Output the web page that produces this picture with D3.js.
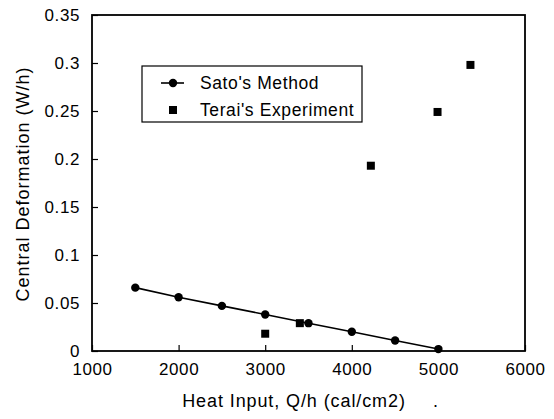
<!DOCTYPE html>
<html>
<head>
<meta charset="utf-8">
<script src="https://cdn.jsdelivr.net/npm/d3@7"></script>
<style>
  body { margin: 0; background: #fff; }
  text { font-family: "Liberation Sans", Arial, sans-serif; fill: #000; }
</style>
</head>
<body>
<div id="chart"></div>
<script>
// Sato's method (computed curve)
let satoX = [1500, 2000, 2500, 3000, 3500, 4000, 4500, 5000];
let satoY = [0.066, 0.056, 0.047, 0.038, 0.029, 0.020, 0.011, 0.002];

// Terai's experiment
let teraiX = [3000, 3400, 4220, 4990, 5370];
let teraiY = [0.018, 0.029, 0.193, 0.249, 0.298];

let xTicks = [1000, 2000, 3000, 4000, 5000, 6000];
let yTicks = [0, 0.05, 0.1, 0.15, 0.2, 0.25, 0.3, 0.35];

let margin = {top: 15, right: 29, bottom: 68, left: 92};
let width = 554 - margin.left - margin.right;
let height = 419 - margin.top - margin.bottom;

let svg = d3.select("#chart").append("svg")
    .attr("width", 554)
    .attr("height", 419);

let g = svg.append("g")
    .attr("transform", "translate(" + margin.left + "," + margin.top + ")");

let x = d3.scaleLinear().domain([1000, 6000]).range([0, width]);
let y = d3.scaleLinear().domain([0, 0.35]).range([height, 0]);

// x axis, ticks pointing inward
let xAxis = g.append("g")
    .attr("transform", "translate(0," + height + ")")
    .call(d3.axisBottom(x).tickValues(xTicks).tickSize(-6).tickPadding(12).tickFormat(d3.format("d")));

let yAxis = g.append("g")
    .call(d3.axisLeft(y).tickValues(yTicks).tickSize(-6).tickPadding(12).tickFormat(d => d === 0 ? "0" : String(d)));

[xAxis, yAxis].forEach(function (a) {
    a.select(".domain").remove();
    a.selectAll("line").attr("stroke", "#000").attr("stroke-width", 1.2);
    a.selectAll("text")
        .style("font-size", "17px")
        .style("letter-spacing", "0.6px")
        .attr("fill", "#000");
});

// frame
g.append("rect")
    .attr("x", 0).attr("y", 0)
    .attr("width", width).attr("height", height)
    .attr("fill", "none")
    .attr("stroke", "#000")
    .attr("stroke-width", 1.8);

let sato = satoX.map((d, i) => ({x: d, y: satoY[i]}));
let terai = teraiX.map((d, i) => ({x: d, y: teraiY[i]}));

g.append("path")
    .datum(sato)
    .attr("fill", "none")
    .attr("stroke", "#000")
    .attr("stroke-width", 1.6)
    .attr("d", d3.line().x(d => x(d.x)).y(d => y(d.y)));

g.selectAll(".sato")
    .data(sato)
    .enter().append("circle")
    .attr("cx", d => x(d.x))
    .attr("cy", d => y(d.y))
    .attr("r", 4.2)
    .attr("fill", "#000");

g.selectAll(".terai")
    .data(terai)
    .enter().append("rect")
    .attr("x", d => x(d.x) - 4)
    .attr("y", d => y(d.y) - 4)
    .attr("width", 8)
    .attr("height", 8)
    .attr("fill", "#000");

// legend
let leg = svg.append("g").attr("transform", "translate(142,66)");
leg.append("rect")
    .attr("width", 220).attr("height", 56)
    .attr("fill", "#fff")
    .attr("stroke", "#000")
    .attr("stroke-width", 1.2);
leg.append("line")
    .attr("x1", 19).attr("x2", 42).attr("y1", 17).attr("y2", 17)
    .attr("stroke", "#000").attr("stroke-width", 1.6);
leg.append("circle").attr("cx", 31).attr("cy", 17).attr("r", 4.2).attr("fill", "#000");
leg.append("rect").attr("x", 27).attr("y", 40).attr("width", 8).attr("height", 8).attr("fill", "#000");
leg.selectAll(".lt")
    .data(["Sato's Method", "Terai's Experiment"])
    .enter().append("text")
    .attr("x", 58)
    .attr("y", (d, i) => 23 + i * 27)
    .style("font-size", "17.5px")
    .style("letter-spacing", "0.6px")
    .text(d => d);

// axis titles
svg.append("text")
    .attr("x", 294)
    .attr("y", 407)
    .attr("text-anchor", "middle")
    .style("font-size", "18px")
    .style("letter-spacing", "0.9px")
    .text("Heat Input, Q/h (cal/cm2)");

svg.append("text")
    .attr("x", 433)
    .attr("y", 407)
    .style("font-size", "18px")
    .text(".");

svg.append("text")
    .attr("transform", "translate(29,184) rotate(-90)")
    .attr("text-anchor", "middle")
    .style("font-size", "18px")
    .style("letter-spacing", "1px")
    .text("Central Deformation (W/h)");
</script>
</body>
</html>
